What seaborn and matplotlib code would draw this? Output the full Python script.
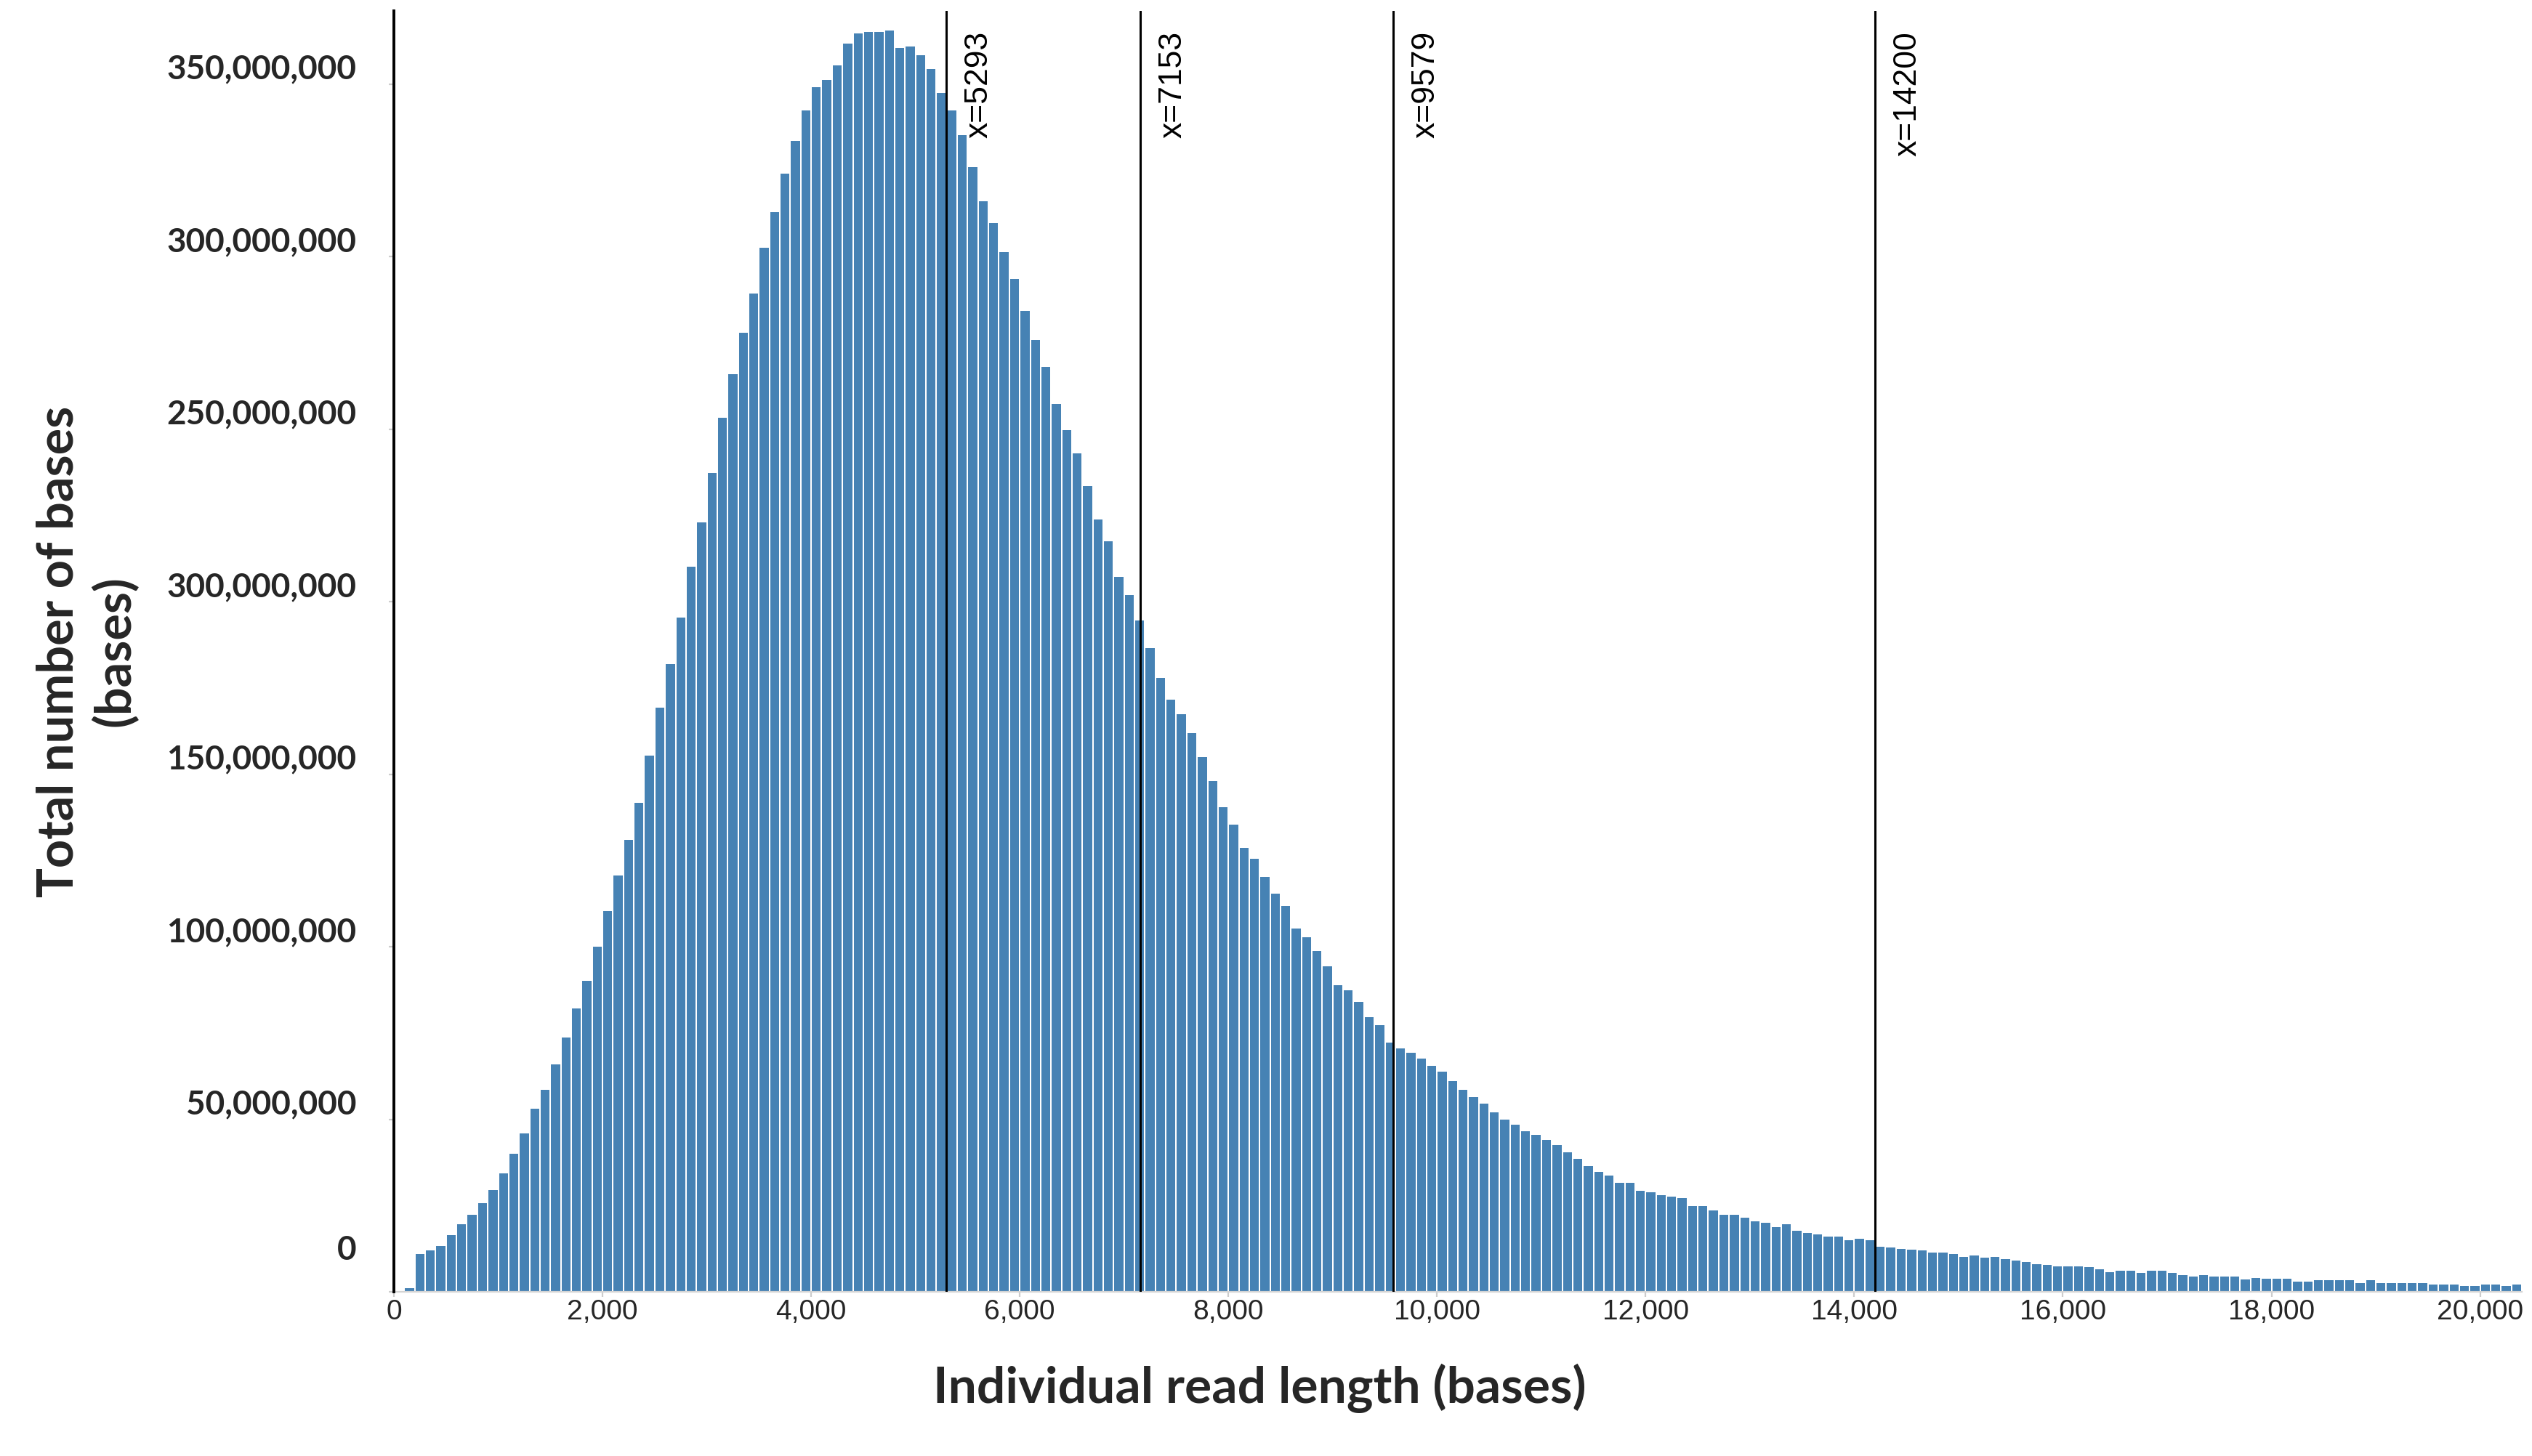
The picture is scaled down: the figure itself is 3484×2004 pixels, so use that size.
import numpy as np
import pandas as pd
import matplotlib
matplotlib.use("Agg")
import matplotlib.pyplot as plt
import matplotlib.transforms as mtransforms
import seaborn as sns

# ---------------- data ----------------
bin_width = 100
bin_starts = list(range(0, 20400, bin_width))  # 204 bins of 100 bases

# total bases per bin, in millions
total_bases_millions = [
    0.3, 1.1, 10.9, 12.0, 13.3, 16.4, 19.6, 22.4, 25.7, 29.5,
    34.4, 40.0, 45.9, 53.0, 58.6, 65.8, 73.7, 82.1, 90.1, 100.0,
    110.4, 120.7, 131.0, 141.8, 155.4, 169.2, 181.9, 195.4, 210.2, 222.9,
    237.3, 253.2, 266.0, 277.9, 289.3, 302.5, 312.8, 324.0, 333.6, 342.4,
    349.1, 351.1, 355.5, 361.7, 364.6, 365.1, 365.1, 365.5, 360.5, 360.8,
    358.4, 354.3, 347.5, 342.3, 335.2, 326.0, 316.1, 309.7, 301.4, 293.5,
    284.3, 275.9, 268.0, 257.3, 249.7, 242.9, 233.4, 223.9, 217.5, 207.1,
    202.0, 194.5, 186.5, 178.0, 171.7, 167.4, 162.0, 155.0, 148.0, 140.4,
    135.3, 128.6, 125.4, 120.3, 115.4, 111.9, 105.2, 102.8, 98.8, 94.4,
    88.8, 87.4, 84.0, 79.6, 77.3, 72.2, 70.5, 69.3, 67.5, 65.5,
    63.8, 61.0, 58.5, 56.5, 54.5, 52.0, 50.0, 48.5, 46.5, 45.5,
    44.0, 42.5, 40.5, 38.5, 36.5, 34.8, 33.6, 31.6, 31.6, 29.3,
    28.8, 28.0, 27.6, 27.2, 24.8, 24.8, 23.6, 22.4, 22.4, 21.5,
    20.4, 20.1, 18.7, 19.6, 17.6, 17.1, 16.7, 16.1, 16.1, 14.9,
    15.3, 14.9, 13.1, 12.8, 12.4, 12.2, 12.1, 11.4, 11.4, 10.9,
    10.2, 10.6, 10.0, 10.2, 9.4, 9.1, 8.6, 8.1, 7.7, 7.4,
    7.4, 7.4, 7.1, 6.6, 5.7, 6.2, 6.2, 5.4, 6.2, 6.2,
    5.4, 4.9, 4.4, 4.9, 4.4, 4.4, 4.4, 3.6, 4.1, 3.8,
    3.8, 3.8, 2.9, 2.9, 3.4, 3.4, 3.4, 3.4, 2.5, 3.4,
    2.5, 2.5, 2.5, 2.5, 2.5, 2.1, 2.1, 2.1, 1.7, 1.7,
    2.1, 2.1, 1.7, 2.1,
]

marker_positions = [5293, 7153, 9579, 14200]
marker_labels = ["x=5293", "x=7153", "x=9579", "x=14200"]

x_ticks = [0, 2000, 4000, 6000, 8000, 10000, 12000, 14000, 16000, 18000, 20000]
x_tick_labels = ["0", "2,000", "4,000", "6,000", "8,000", "10,000",
                 "12,000", "14,000", "16,000", "18,000", "20,000"]
y_ticks = [0, 50e6, 100e6, 150e6, 200e6, 250e6, 300e6, 350e6]
y_tick_labels = ["0", "50,000,000", "100,000,000", "150,000,000",
                 "300,000,000", "250,000,000", "300,000,000", "350,000,000"]

x_title = "Individual read length (bases)"
y_title = "Total number of bases\n(bases)"

df = pd.DataFrame({
    "center": np.array(bin_starts) + bin_width / 2,
    "bases": np.array(total_bases_millions) * 1e6,
})
edges = list(bin_starts) + [bin_starts[-1] + bin_width]

# ---------------- style ----------------
sns.set_style("white")
plt.rcParams["font.family"] = ["Liberation Sans", "DejaVu Sans"]

W, H, DPI = 3484, 2004, 200
fig = plt.figure(figsize=(W / DPI, H / DPI), dpi=DPI)
ax_left, ax_right, ax_top, ax_bottom = 542, 3470, 15, 1778
ax = fig.add_axes([ax_left / W, 1 - ax_bottom / H,
                   (ax_right - ax_left) / W, (ax_bottom - ax_top) / H])

sns.histplot(data=df, x="center", weights="bases", bins=edges, shrink=0.86,
             color="#4682B4", alpha=1, edgecolor="none", linewidth=0, ax=ax)

ax.set_xlim(0, 20400)
ax.set_ylim(0, 371.2e6)

for xv, lab in zip(marker_positions, marker_labels):
    ax.axvline(xv, color="black", lw=1.1, zorder=3)
    ax.annotate(lab, xy=(xv, 1), xycoords=("data", "axes fraction"),
                xytext=(8.8, -10), textcoords="offset points",
                rotation=90, ha="left", va="top", fontsize=16,
                family=["Liberation Sans", "DejaVu Sans"], color="black")

sns.despine(ax=ax, top=True, right=True)
ax.spines["left"].set_color("black")
ax.spines["left"].set_linewidth(1.4)
ax.spines["left"].set_zorder(4)
ax.spines["bottom"].set_color("#d4d4d4")
ax.spines["bottom"].set_linewidth(0.8)

ax.set_xticks(x_ticks)
ax.set_xticklabels(x_tick_labels, fontsize=14,
                   family=["Liberation Sans", "DejaVu Sans"])
ax.set_yticks(y_ticks)
ax.set_yticklabels(y_tick_labels, fontsize=16.5, fontweight="bold",
                   family=["Lato", "DejaVu Sans"])
ax.tick_params(axis="x", length=2.5, width=0.8, color="#cccccc", pad=1.0,
               bottom=True)
ax.tick_params(axis="y", length=2.5, width=0.8, color="#cccccc", pad=16.2,
               left=True)

for lbl, val in zip(ax.get_yticklabels(), y_ticks):
    dy = 22.0 if val == 0 else 8.6
    off = mtransforms.ScaledTranslation(0, dy / 72, fig.dpi_scale_trans)
    lbl.set_transform(lbl.get_transform() + off)

ax.set_xlabel(x_title, fontsize=25, fontweight="bold",
              family=["Lato", "DejaVu Sans"])
ax.xaxis.label.set_va("center")
ax.xaxis.set_label_coords((1733 - ax_left) / (ax_right - ax_left),
                          (ax_bottom - 1911) / (ax_bottom - ax_top))

ax.set_ylabel(y_title, fontsize=24.6, fontweight="bold",
              family=["Lato", "DejaVu Sans"], linespacing=1.25)
ax.yaxis.label.set_va("center")
ax.yaxis.label.set_ha("center")
ax.yaxis.set_label_coords((120 - ax_left) / (ax_right - ax_left), 0.5)

ax.grid(False)
fig.savefig("out.png", dpi=DPI)
